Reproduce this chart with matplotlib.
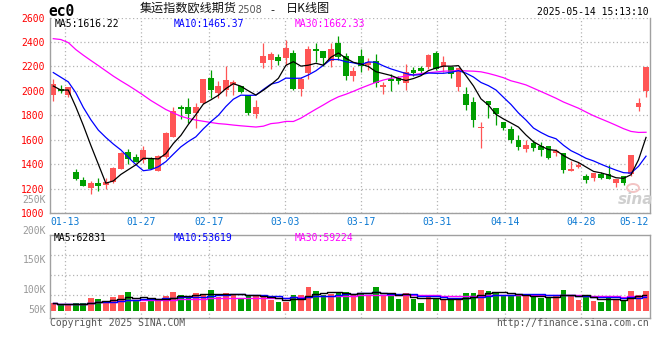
import matplotlib
matplotlib.use('Agg')
import matplotlib.pyplot as plt
import matplotlib.transforms as mtransforms
from matplotlib.patches import Ellipse
import numpy as np
import pandas as pd

# trading days shown (2025)
dates = ['01-09', '01-10', '01-13', '01-14', '01-15', '01-16', '01-17', '01-20', '01-21', '01-22',
         '01-23', '01-24', '01-27', '02-05', '02-06', '02-07', '02-10', '02-11', '02-12', '02-13',
         '02-14', '02-17', '02-18', '02-19', '02-20', '02-21', '02-24', '02-25', '02-26', '02-27',
         '02-28', '03-03', '03-04', '03-05', '03-06', '03-07', '03-10', '03-11', '03-12', '03-13',
         '03-14', '03-17', '03-18', '03-19', '03-20', '03-21', '03-24', '03-25', '03-26', '03-27',
         '03-28', '03-31', '04-01', '04-02', '04-03', '04-07', '04-08', '04-09', '04-10', '04-11',
         '04-14', '04-15', '04-16', '04-17', '04-18', '04-21', '04-22', '04-23', '04-24', '04-25',
         '04-28', '04-29', '04-30', '05-06', '05-07', '05-08', '05-09', '05-12', '05-13', '05-14']

opens = [1963, 2015, 1963, 1341, 1275, 1204, 1245, 1234, 1256, 1365,
         1497, 1458, 1439, 1455, 1349, 1458, 1624, 1865, 1870, 1818,
         1898, 2103, 1982, 2007, 2048, 2037, 1969, 1813, 2228, 2250,
         2278, 2266, 2310, 2015, 2143, 2340, 2324, 2247, 2392, 2285,
         2122, 2283, 2212, 2244, 2029, 2100, 2103, 2062, 2171, 2187,
         2193, 2310, 2193, 2198, 2031, 1971, 1906, 1693, 1914, 1859,
         1742, 1685, 1600, 1524, 1578, 1548, 1546, 1491, 1496, 1343,
         1382, 1306, 1286, 1322, 1322, 1248, 1308, 1325, 1870, 1999]
closes = [2059, 1996, 2029, 1283, 1226, 1245, 1224, 1253, 1374, 1491,
          1442, 1420, 1521, 1365, 1472, 1660, 1835, 1849, 1815, 1870,
          2094, 2007, 2037, 2086, 2072, 1990, 1818, 1865, 2283, 2302,
          2248, 2348, 2015, 2100, 2340, 2326, 2269, 2340, 2277, 2122,
          2160, 2201, 2236, 2067, 2045, 2083, 2078, 2154, 2146, 2160,
          2291, 2182, 2236, 2141, 2184, 1881, 1761, 1709, 1884, 1808,
          1693, 1597, 1540, 1562, 1532, 1516, 1453, 1507, 1352, 1365,
          1398, 1270, 1327, 1292, 1281, 1283, 1245, 1475, 1903, 2195]
highs = [2100, 2051, 2034, 1365, 1297, 1262, 1289, 1292, 1380, 1498,
         1524, 1482, 1548, 1458, 1478, 1665, 1870, 1887, 1944, 1903,
         2098, 2168, 2078, 2201, 2086, 2040, 1969, 1922, 2389, 2321,
         2304, 2420, 2334, 2113, 2367, 2395, 2324, 2389, 2449, 2307,
         2198, 2340, 2266, 2304, 2075, 2141, 2122, 2217, 2198, 2204,
         2304, 2326, 2285, 2198, 2190, 2034, 1947, 1747, 1914, 1859,
         1742, 1712, 1638, 1600, 1597, 1581, 1554, 1526, 1496, 1425,
         1417, 1325, 1333, 1335, 1393, 1283, 1308, 1475, 1939, 2195]
lows = [1917, 1980, 1952, 1270, 1221, 1156, 1180, 1199, 1250, 1360,
        1406, 1416, 1412, 1360, 1345, 1455, 1620, 1772, 1739, 1696,
        1895, 1939, 1939, 1961, 1966, 1985, 1801, 1778, 2184, 2179,
        2212, 2210, 2006, 1960, 2100, 2240, 2204, 2198, 2253, 2089,
        2081, 2157, 2171, 2031, 1971, 1996, 2056, 2007, 2122, 2135,
        2176, 2171, 2154, 2105, 1999, 1848, 1704, 1532, 1778, 1720,
        1677, 1576, 1516, 1499, 1513, 1466, 1445, 1466, 1327, 1343,
        1368, 1246, 1267, 1281, 1281, 1212, 1229, 1303, 1835, 1950]
volumes = [30000, 26000, 26000, 30000, 30000, 43000, 40000, 30000, 45000, 50000,
           58000, 37000, 33000, 38000, 40000, 48000, 58000, 50000, 45000, 56000,
           50000, 63000, 45000, 56000, 53000, 42000, 50000, 47000, 45000, 37000,
           32000, 34000, 50000, 50000, 71000, 61000, 50000, 53000, 58000, 58000,
           50000, 56000, 50000, 71000, 47000, 47000, 41000, 56000, 41000, 31000,
           50000, 41000, 38000, 38000, 41000, 56000, 56000, 63000, 61000, 58000,
           51000, 48000, 48000, 48000, 48000, 43000, 43000, 51000, 63000, 50000,
           38000, 45000, 36000, 33000, 46000, 38000, 38000, 61000, 51000, 61000]

# moving-average values before enough visible days exist
ma5_head = [2040, 2007, 2007, 1870]
ma10_head = [2150, 2112, 2074, 1985, 1865, 1765, 1680, 1620, 1566]
ma30_head = [2427, 2420, 2395, 2338, 2292, 2249, 2207, 2164, 2121, 2082,
             2045, 2006, 1965, 1922, 1885, 1848, 1820, 1793, 1775, 1762,
             1752, 1742, 1733, 1728, 1721, 1715, 1710, 1705, 1712]

tick_dates = ['01-13', '01-27', '02-17', '03-03', '03-17', '03-31', '04-14', '04-28', '05-12']
price_ticks = [1000, 1200, 1400, 1600, 1800, 2000, 2200, 2400, 2600]
vol_grid = [50000, 100000, 150000]
vol_labels = ['250K', '200K', '150K', '100K', '50K']

RED = '#ff5555'
GREEN = '#009e00'
BLUE_TXT = '#0a78d2'
GRID = '#b4b4b4'
SPINE = '#a0a0a0'
MONO = 'DejaVu Sans Mono'
CJK = ['Noto Sans CJK SC', 'DejaVu Sans']

df = pd.DataFrame({'open': opens, 'high': highs, 'low': lows, 'close': closes, 'vol': volumes})
x = np.arange(len(df))
up = df['close'] >= df['open']
colors = np.where(up, RED, GREEN)


def moving(series, n, head):
    m = series.rolling(n).mean().to_numpy()
    m[:len(head)] = head
    return m


ma5 = moving(df['close'], 5, ma5_head)
ma10 = moving(df['close'], 10, ma10_head)
ma30 = moving(df['close'], 30, ma30_head)
vma5 = df['vol'].rolling(5, min_periods=1).mean()
vma10 = df['vol'].rolling(10, min_periods=1).mean()
vma30 = df['vol'].rolling(30, min_periods=1).mean()

W, H = 660, 360
fig = plt.figure(figsize=(6.6, 3.6), dpi=100)
fig.patch.set_facecolor('white')
ax = fig.add_axes([50 / W, 1 - 213.3 / H, 600 / W, 195.8 / H])
axv = fig.add_axes([50 / W, 1 - 318.3 / H, 600 / W, 83.6 / H])

# grid positions drift slightly against the candles on the original chart
grid_pos = np.array([dates.index(d) for d in tick_dates]) * 1.0113 - 0.43

for a in (ax, axv):
    a.set_xlim(-0.44, 79.53)
    for s in a.spines.values():
        s.set_color(SPINE)
        s.set_linewidth(1)
    a.set_axisbelow(True)

# price panel
ax.spines['top'].set_visible(False)
ax.set_ylim(1000, 2600)
ax.set_yticks(price_ticks)
ax.set_yticklabels([str(p) for p in price_ticks])
ax.set_xticks(grid_pos)
ax.set_xticklabels(tick_dates)
ax.tick_params(axis='y', length=0, pad=4, labelsize=7, labelcolor='#ff0000')
ax.tick_params(axis='x', length=0, pad=3, labelsize=7, labelcolor=BLUE_TXT)
for lab in ax.get_xticklabels() + ax.get_yticklabels():
    lab.set_family(MONO)
ax.grid(True, color=GRID, linestyle=(0, (1, 2)), linewidth=0.9)
ax.get_xgridlines()[-1].set_visible(False)

body = np.maximum((df['close'] - df['open']).abs(), 6)
ax.vlines(x, df['low'], df['high'], colors=colors, linewidth=0.9)
ax.bar(x, body, bottom=np.minimum(df['open'], df['close']), width=0.78, color=colors, linewidth=0)
ax.plot(x, ma30, color='#ff00ff', lw=0.9)
ax.plot(x, ma10, color='#0000ff', lw=0.9)
ax.plot(x, ma5, color='#000000', lw=0.9)

# volume panel
base = 11600
axv.set_ylim(-7500, 200000)
axv.set_yticks(vol_grid)
axv.set_yticklabels([])
axv.set_xticks(grid_pos[:-1])
axv.set_xticklabels([])
axv.tick_params(length=0)
axv.grid(True, color=GRID, linestyle=(0, (1, 2)), linewidth=0.9)
axv.bar(x, df['vol'] - base, bottom=base, width=0.76, color=colors, linewidth=0)
axv.plot(x, vma30, color='#ff00ff', lw=1, drawstyle='steps-mid')
axv.plot(x, vma10, color='#0000ff', lw=1, drawstyle='steps-mid')
axv.plot(x, vma5, color='#000000', lw=1, drawstyle='steps-mid')

vol_label_y = [287000, 209000, 136500, 63000, 13000]
tr = mtransforms.blended_transform_factory(axv.transAxes, axv.transData)
for t, yv in zip(vol_labels, vol_label_y):
    axv.text(-4 / 600, yv, t, transform=tr, ha='right', va='center', fontsize=7,
             family=MONO, color='#999999', clip_on=False)


def ftext(px, py, s, **kw):
    kw.setdefault('family', MONO)
    kw.setdefault('fontsize', 7)
    kw.setdefault('va', 'center')
    fig.text(px / W, 1 - py / H, s, **kw)


# header
ftext(48, 12, 'ec0', fontsize=10.5, fontweight='bold', color='black')
ftext(140, 8.5, '集运指数欧线期货', family=CJK, fontsize=8.7, color='#111111')
ftext(237, 10, '2508', family='DejaVu Sans', fontsize=7, color='#555555')
ftext(270, 10, '-', family='DejaVu Sans', fontsize=8, color='#111111')
ftext(286, 8.5, '日K线图', family=CJK, fontsize=8.7, color='#111111')
ftext(649, 12, '2025-05-14 15:13:10', ha='right', color='black')

ftext(55, 24, 'MA5:1616.22', color='black')
ftext(174, 24, 'MA10:1465.37', color='#0000ff')
ftext(295, 24, 'MA30:1662.33', color='#ff00ff')
ftext(54, 238, 'MA5:62831', color='black')
ftext(174, 238, 'MA10:53619', color='#0000ff')
ftext(295, 238, 'MA30:59224', color='#ff00ff')

# faint sina watermark
fig.add_artist(Ellipse((633 / W, 1 - 188 / H), 12 / W, 8 / H, transform=fig.transFigure,
                       facecolor='none', edgecolor='#f3c4c4', lw=1.4))
ftext(636, 199, 'sina', family='DejaVu Sans', fontsize=11, fontweight='bold',
      style='italic', color='#cfcfcf', ha='center')

# footer
ftext(50, 323, 'Copyright 2025 SINA.COM', color='#555555')
ftext(649, 323, 'http://finance.sina.com.cn', ha='right', color='#555555')

fig.savefig('out.png', dpi=100)
